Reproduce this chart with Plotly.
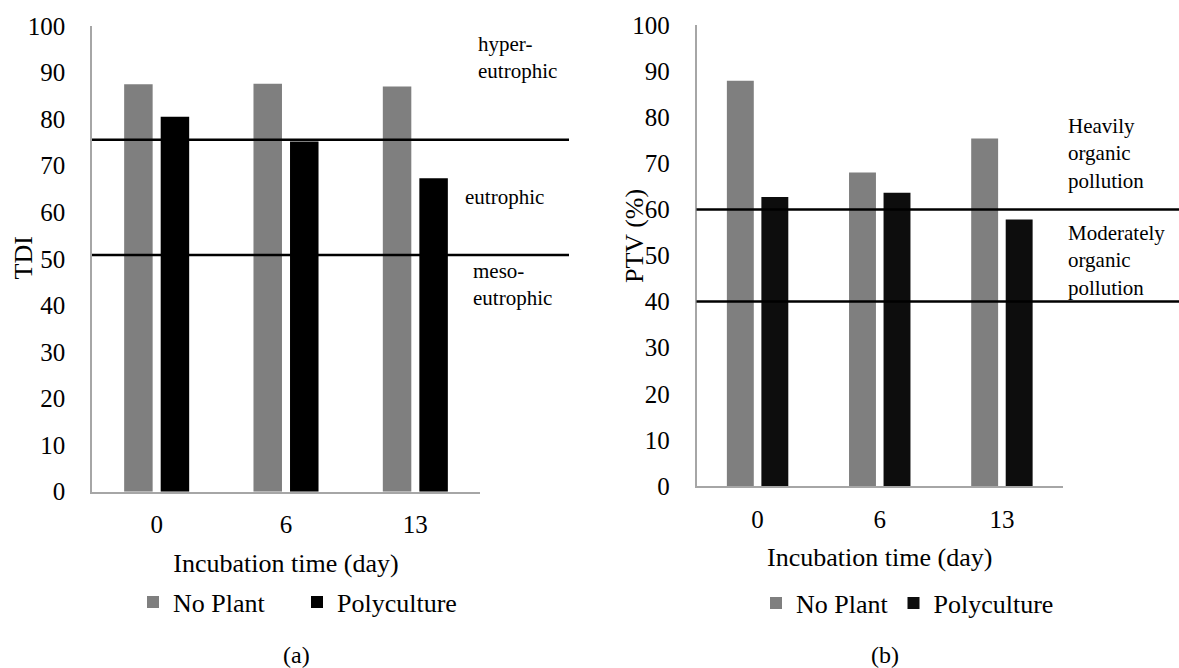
import plotly.graph_objects as go

W, H = 1179, 668

days = ["0", "6", "13"]
tdi_no_plant = [87.5, 87.6, 87.0]
tdi_polyculture = [80.5, 75.2, 67.3]
ptv_no_plant = [87.9, 68.0, 75.4]
ptv_polyculture = [62.7, 63.6, 57.8]
tdi_thresholds = [75.6, 50.8]
ptv_thresholds = [60, 40]
y_ticks = list(range(0, 101, 10))

FONT = "Liberation Serif, Times New Roman, serif"
GRAY = "#7f7f7f"
AXIS = "#a6a6a6"


def px(x):
    return x / W


def py(y):
    return 1 - y / H


fig = go.Figure()
fig.add_trace(go.Bar(x=days, y=tdi_no_plant, name="No Plant", marker_color=GRAY,
                     xaxis="x", yaxis="y", legend="legend"))
fig.add_trace(go.Bar(x=days, y=tdi_polyculture, name="Polyculture", marker_color="#000000",
                     xaxis="x", yaxis="y", legend="legend"))
fig.add_trace(go.Bar(x=days, y=ptv_no_plant, name="No Plant", marker_color=GRAY,
                     xaxis="x2", yaxis="y2", legend="legend2"))
fig.add_trace(go.Bar(x=days, y=ptv_polyculture, name="Polyculture", marker_color="#0d0d0d",
                     xaxis="x2", yaxis="y2", legend="legend2"))

xcommon = dict(type="category", showline=True, linecolor=AXIS, linewidth=1.5,
               showgrid=False, zeroline=False, ticks="", automargin=False,
               tickfont=dict(family=FONT, size=25, color="black"),
               ticklabelstandoff=10, fixedrange=True)
ycommon = dict(range=[0, 100], tickvals=y_ticks, showline=True, linecolor=AXIS, linewidth=1.5,
               showgrid=False, zeroline=False, ticks="", automargin=False,
               tickfont=dict(family=FONT, size=25, color="black"),
               ticklabelstandoff=20, fixedrange=True)

shapes = []
for v in tdi_thresholds:
    shapes.append(dict(type="line", xref="x domain", yref="y", x0=0, x1=(569 - 92) / 388,
                       y0=v, y1=v, line=dict(color="black", width=2.5)))
for v in ptv_thresholds:
    shapes.append(dict(type="line", xref="x2 domain", yref="y2", x0=0, x1=(1180 - 696.5) / 366.5,
                       y0=v, y1=v, line=dict(color="black", width=2.5)))

ann_font = dict(family=FONT, size=21, color="black")
annotations = [
    dict(text="hyper-<br>eutrophic", x=px(476), y=py(58), xref="paper", yref="paper",
         xanchor="left", yanchor="middle", align="left", showarrow=False, font=ann_font),
    dict(text="eutrophic", x=px(463), y=py(197), xref="paper", yref="paper",
         xanchor="left", yanchor="middle", align="left", showarrow=False, font=ann_font),
    dict(text="meso-<br>eutrophic", x=px(471), y=py(284), xref="paper", yref="paper",
         xanchor="left", yanchor="middle", align="left", showarrow=False, font=ann_font),
    dict(text="Heavily<br>organic<br>pollution", x=px(1066), y=py(153), xref="paper", yref="paper",
         xanchor="left", yanchor="middle", align="left", showarrow=False, font=ann_font),
    dict(text="Moderately<br>organic<br>pollution", x=px(1066), y=py(260), xref="paper", yref="paper",
         xanchor="left", yanchor="middle", align="left", showarrow=False, font=ann_font),
    dict(text="TDI", x=px(22.5), y=py(258), xref="paper", yref="paper", textangle=-90,
         xanchor="center", yanchor="middle", showarrow=False,
         font=dict(family=FONT, size=26, color="black")),
    dict(text="PTV (%)", x=px(634), y=py(236), xref="paper", yref="paper", textangle=-90,
         xanchor="center", yanchor="middle", showarrow=False,
         font=dict(family=FONT, size=26, color="black")),
    dict(text="(a)", x=px(296), y=py(655), xref="paper", yref="paper",
         xanchor="center", yanchor="middle", showarrow=False,
         font=dict(family=FONT, size=24, color="black")),
    dict(text="(b)", x=px(885), y=py(655), xref="paper", yref="paper",
         xanchor="center", yanchor="middle", showarrow=False,
         font=dict(family=FONT, size=24, color="black")),
]

legfont = dict(family=FONT, size=26, color="black")

fig.update_layout(
    template="none",
    width=W, height=H,
    margin=dict(l=0, r=0, t=0, b=0, autoexpand=False),
    font=dict(family=FONT, color="black"),
    paper_bgcolor="white", plot_bgcolor="white",
    barmode="group", bargap=0.435, bargroupgap=0.22,
    xaxis=dict(xcommon, domain=[px(92), px(480)], anchor="y",
               title=dict(text="Incubation time (day)", standoff=16,
                          font=dict(family=FONT, size=26, color="black"))),
    yaxis=dict(ycommon, domain=[py(491.7), py(26)], anchor="x"),
    xaxis2=dict(xcommon, domain=[px(696.5), px(1063)], anchor="y2",
                title=dict(text="Incubation time (day)", standoff=16,
                           font=dict(family=FONT, size=26, color="black"))),
    yaxis2=dict(ycommon, domain=[py(486), py(25)], anchor="x2"),
    legend=dict(orientation="h", x=px(133), y=py(602), xanchor="left", yanchor="middle",
                font=legfont, entrywidth=119, entrywidthmode="pixels",
                bgcolor="rgba(0,0,0,0)"),
    legend2=dict(orientation="h", x=px(756), y=py(603), xanchor="left", yanchor="middle",
                 font=legfont, bgcolor="rgba(0,0,0,0)"),
    shapes=shapes,
    annotations=annotations,
    showlegend=True,
    hovermode=False,
)

fig.write_html(
    "out.html",
    config={"displayModeBar": False, "staticPlot": False},
    post_script="document.body.style.margin='0';document.body.style.overflow='hidden';",
)
